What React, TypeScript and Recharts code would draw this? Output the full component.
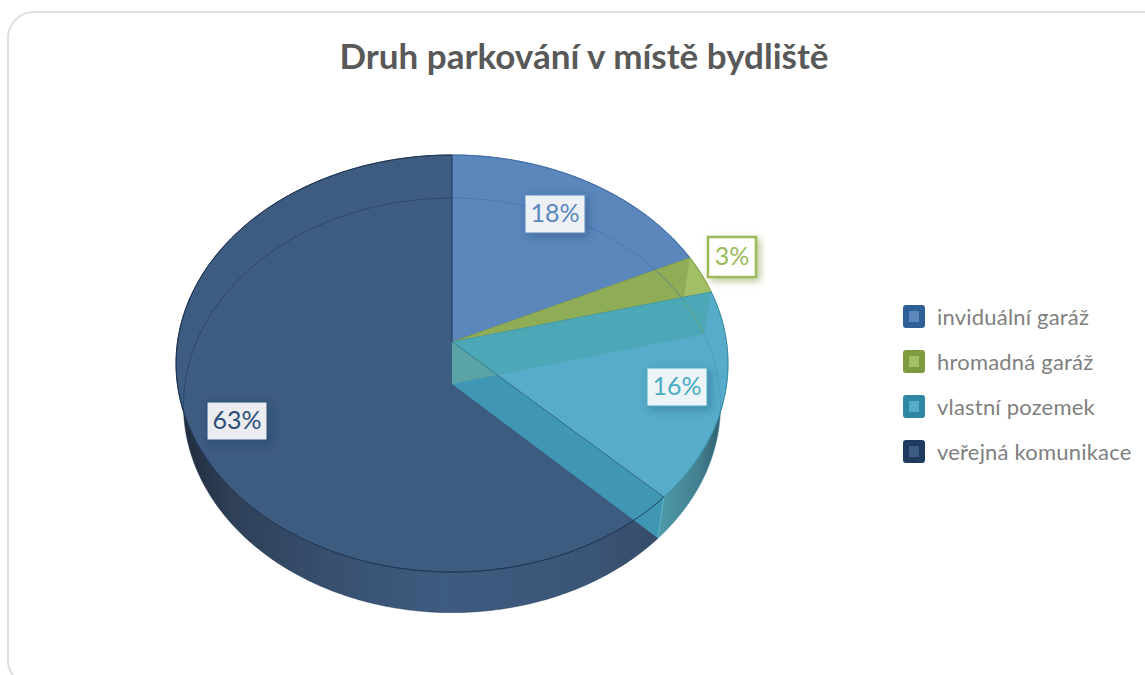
import React from 'react';
import { PieChart, Pie, Legend } from 'recharts';

const categories = ['inviduální garáž', 'hromadná garáž', 'vlastní pozemek', 'veřejná komunikace'];
const shares = [18, 3, 16.3, 62.7];

const topColors = ['#5b87bd', '#a3bf66', '#57adc9', '#3e5b80'];
const legendColors = ['#2f5f97', '#7f9b3d', '#2e87a3', '#1f3a5f'];
const lineColors = ['#3f6ca6', '#7f9b3d', '#3b8fa8', '#1c3352'];
const labelColors = ['#5b87bd', '#9bbb59', '#4bacc6', '#2f4f78'];
// label box centres, relative to the pie centre
const labelOffsets = [[103, -128], [280, -85], [225, 45], [-215, 79]];

const tableData = categories.map((name, i) => ({ name, value: shares[i], fill: legendColors[i] }));

const CX = 452;
const CY = 342;
const RADIUS = 274.5;
const DEPTH = 42;
const PERSPECTIVE = 0.103;

type Pt = [number, number];

// tilted disc seen in perspective, theta runs clockwise from 12 o'clock
const project = (cx: number, cy: number, a: number, b: number, theta: number): Pt => {
  const t = (theta * Math.PI) / 180;
  const w = 1 + PERSPECTIVE * Math.cos(t);
  return [cx + (a * Math.sin(t)) / w, cy - (b * Math.cos(t)) / w];
};
const onTop = (p: any, theta: number) => project(p.cx, p.cy, p.outerRadius, p.outerRadius * 0.7515, theta);
const onBottom = (p: any, theta: number) =>
  project(p.cx, p.cy + DEPTH, p.outerRadius * 0.973, p.outerRadius * 0.747, theta);

const arc = (fn: (theta: number) => Pt, from: number, to: number): Pt[] => {
  const pts: Pt[] = [];
  const steps = Math.max(2, Math.ceil(Math.abs(to - from)));
  for (let i = 0; i <= steps; i++) pts.push(fn(from + ((to - from) * i) / steps));
  return pts;
};
const toPath = (pts: Pt[], close = true) =>
  pts.map((pt, i) => `${i ? 'L' : 'M'}${pt[0].toFixed(2)} ${pt[1].toFixed(2)}`).join(' ') + (close ? ' Z' : '');

const thetas = (p: any) => [90 - p.startAngle, 90 - p.endAngle];
const indexOf = (p: any) => categories.indexOf(p.name);

const radialWall = (p: any, theta: number) =>
  toPath([[p.cx, p.cy], onTop(p, theta), onBottom(p, theta), [p.cx, p.cy + DEPTH]]);

// outer rim of every slice
const SideShape = (p: any) => {
  const [a, b] = thetas(p);
  const i = indexOf(p);
  const top = arc((t) => onTop(p, t), a, b);
  const bottom = arc((t) => onBottom(p, t), b, a);
  const fill = i === 3 ? 'url(#sideDark)' : i === 2 ? 'url(#sideTeal)' : topColors[i];
  return <path d={toPath([...top, ...bottom])} fill={fill} stroke="none" />;
};

// top face, later slices paint over the wall of the one before
const TopShape = (p: any) => {
  const [a, b] = thetas(p);
  const i = indexOf(p);
  const face = toPath([[p.cx, p.cy], ...arc((t) => onTop(p, t), a, b)]);
  return (
    <g>
      <path d={face} fill={topColors[i]} stroke={lineColors[i]} strokeWidth={0.8} />
      {i === 1 && <path d={radialWall(p, a)} fill="#88a653" fillOpacity={0.75} />}
      {i === 2 && <path d={radialWall(p, a)} fill="#47a5ae" fillOpacity={0.7} />}
    </g>
  );
};

// see-through parts: cut face of the teal slice, far rim of the disc, rim lines
const OverlayShape = (p: any) => {
  const [a, b] = thetas(p);
  const i = indexOf(p);
  const farRim = toPath(arc((t) => onBottom(p, t), a, b), false);
  const nearRim = toPath(arc((t) => onTop(p, t), a, b), false);
  return (
    <g>
      {i === 2 && (
        <g>
          <clipPath id="cutFace">
            <path d={radialWall(p, b)} />
          </clipPath>
          <path d={radialWall(p, b)} fill="#3f97b3" />
          <path d={radialWall(p, a)} fill="#5aa3a6" clipPath="url(#cutFace)" />
          <path d={`M${onTop(p, b).join(' ')} L${onBottom(p, b).join(' ')}`} stroke="#63b4c9" strokeWidth={1} fill="none" />
        </g>
      )}
      <path d={farRim} fill="none" stroke={lineColors[i]} strokeWidth={1} strokeOpacity={0.5} />
      <path d={nearRim} fill="none" stroke={lineColors[i]} strokeWidth={1} strokeOpacity={0.85} />
    </g>
  );
};

const renderLabel = (p: any) => {
  const i = indexOf(p);
  const x = p.cx + labelOffsets[i][0];
  const y = p.cy + labelOffsets[i][1];
  const isGreen = i === 1;
  const w = isGreen ? 48 : 60;
  const h = isGreen ? 40 : 38;
  return (
    <g>
      <rect
        x={x - w / 2}
        y={y - h / 2}
        width={w}
        height={h}
        fill="#ffffff"
        fillOpacity={isGreen ? 1 : 0.88}
        stroke={labelColors[i]}
        strokeWidth={isGreen ? 2.5 : 1}
        filter={isGreen ? 'url(#labelShadowGreen)' : 'url(#labelShadow)'}
      />
      <text x={x} y={y + 8} textAnchor="middle" fontFamily="Lato" fontSize={25} fill={labelColors[i]}>
        {`${Math.round(p.percent * 100)}%`}
      </text>
    </g>
  );
};

// the three stacked pies all report items, so the list comes from the categories
const renderLegend = () => (
  <div>
    {categories.map((name, i) => (
      <div key={name} style={{ display: 'flex', alignItems: 'center', height: 45 }}>
        <div
          style={{
            width: 22,
            height: 23,
            boxSizing: 'border-box',
            borderRadius: 3,
            background: legendColors[i],
            padding: 6,
            marginRight: 12,
          }}
        >
          <div style={{ width: 10, height: 11, background: topColors[i] }} />
        </div>
        <span style={{ fontFamily: 'Lato', fontSize: 22, color: '#7f7f7f', whiteSpace: 'nowrap', letterSpacing: 0.2 }}>
          {name}
        </span>
      </div>
    ))}
  </div>
);

const commonPie = {
  data: tableData,
  dataKey: 'value',
  nameKey: 'name',
  cx: CX,
  cy: CY,
  outerRadius: RADIUS,
  startAngle: 90,
  endAngle: -270,
  stroke: 'none',
  isAnimationActive: false,
};

const App: React.FC = () => {
  return (
    <div style={{ position: 'absolute', left: 0, top: 0, width: 1145, height: 675, overflow: 'hidden', background: '#fff' }}>
      <div
        style={{
          position: 'absolute',
          left: 7,
          top: 11,
          width: 1180,
          height: 672,
          border: '2px solid #dedede',
          borderRadius: 27,
        }}
      />
      <div style={{ position: 'absolute', left: 0, top: 0 }}>
        <PieChart width={1145} height={675} margin={{ top: 0, right: 0, bottom: 0, left: 0 }}>
          <defs>
            <linearGradient id="sideDark" gradientUnits="userSpaceOnUse" x1="176" y1="0" x2="660" y2="0">
              <stop offset="0%" stopColor="#1f2a3a" />
              <stop offset="12%" stopColor="#2f4058" />
              <stop offset="32%" stopColor="#38506f" />
              <stop offset="55%" stopColor="#3e5b80" />
              <stop offset="85%" stopColor="#3b5577" />
              <stop offset="100%" stopColor="#364c68" />
            </linearGradient>
            <linearGradient id="sideTeal" gradientUnits="userSpaceOnUse" x1="655" y1="0" x2="728" y2="0">
              <stop offset="0%" stopColor="#4f9cac" />
              <stop offset="60%" stopColor="#437f8f" />
              <stop offset="100%" stopColor="#2c5566" />
            </linearGradient>
            <filter id="labelShadow" x="-30%" y="-30%" width="170%" height="170%">
              <feDropShadow dx="3" dy="3" stdDeviation="5" floodColor="#1f3a5f" floodOpacity="0.4" />
            </filter>
            <filter id="labelShadowGreen" x="-30%" y="-30%" width="170%" height="170%">
              <feDropShadow dx="3" dy="3" stdDeviation="3.5" floodColor="#7f9b3d" floodOpacity="0.55" />
            </filter>
          </defs>
          <text x={584} y={69} textAnchor="middle" fontFamily="Lato" fontWeight={700} fontSize={35} fill="#595959">
            Druh parkování v místě bydliště
          </text>
          <Pie {...commonPie} shape={SideShape} legendType="none" />
          <Pie {...commonPie} shape={TopShape} legendType="none" />
          <Pie {...commonPie} shape={OverlayShape} label={renderLabel} labelLine={false} />
          <Legend
            layout="vertical"
            content={renderLegend}
            wrapperStyle={{ position: 'absolute', left: 903, top: 294, width: 240, margin: 0 }}
          />
        </PieChart>
      </div>
    </div>
  );
};

export default App;
